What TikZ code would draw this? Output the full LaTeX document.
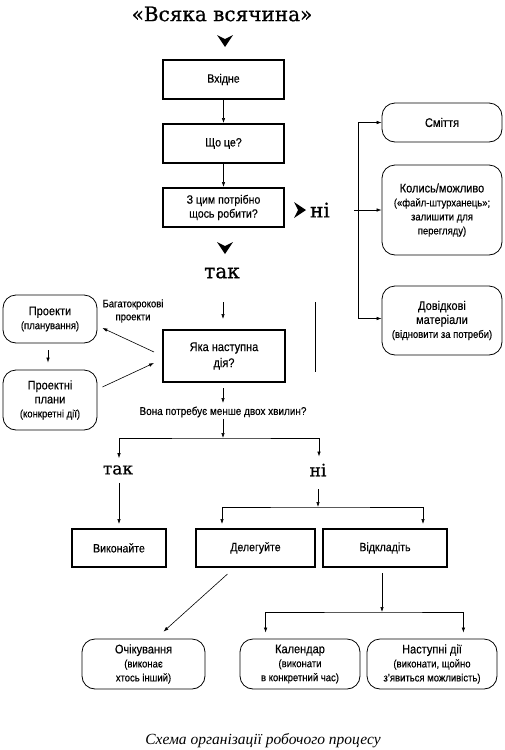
\documentclass[tikz,border=0pt]{standalone}
\usepackage{fontspec}
\setmainfont[FakeStretch=0.88, FakeBold=0.3]{Liberation Sans}
\newfontfamily\titlefont[FakeBold=0.8]{DejaVu Serif}
\newfontfamily\capfont{Liberation Serif}
\usepackage{tikz}
\usetikzlibrary{calc, arrows.meta}
\tikzset{>=latex}
\newcommand*\subt{\fontsize{10.8}{14}\selectfont}
\tikzset{
  actbox/.style={draw, line width=2pt, minimum width=121pt, minimum height=39pt,
    inner sep=1pt, align=center, font=\fontsize{12}{14}\selectfont},
  listbox/.style={draw, line width=0.8pt, rounded corners=13pt, minimum width=120pt,
    inner sep=1pt, align=center, font=\fontsize{12.5}{14}\selectfont},
  bigword/.style={inner sep=0pt, font=\titlefont\fontsize{20}{24}\selectfont},
  arr/.style={-{Latex[length=5pt,width=3.5pt]}, line width=0.6pt},
  dblarr/.style={{Latex[length=5pt,width=3.5pt]}-{Latex[length=5pt,width=3.5pt]}, line width=0.6pt},
  chevron/.pic={\fill (0,7) -- (-8,-5) -- (0,-1) -- (8,-5) -- cycle;}
}
\begin{document}
\begin{tikzpicture}[x=1pt, y=-1pt]
\useasboundingbox (0,0) rectangle (504,750);

% main column
\node[bigword] (title) at (222,14) {«Всяка всячина»};
\pic at (225,40) {chevron};
\node[actbox] (inbox) at (223.5,79.5) {Вхідне};
\node[actbox] (what) at (223.5,143.5) {Що це?};
\node[actbox] (todo) at (223.5,207.5) {З цим потрібно\\щось робити?};
\pic at (225,247) {chevron};
\node[bigword] (tak1) at (222,273) {так};
\pic[rotate=90] at (299,210) {chevron};
\node[bigword] (ni1) at (320,210) {ні};

\draw[arr] (inbox) -- (what);
\draw[arr] (what) -- (todo);

% right column
\node[listbox, minimum height=39pt] (trash) at (442,122.5) {Сміття};
\node[listbox, minimum height=90pt] (maybe) at (442,210)
  {Колись/можливо\\{\subt(«файл-штурханець»;}\\{\subt залишити для}\\{\subt перегляду)}};
\node[listbox, minimum height=69pt] (refs) at (442,320.5)
  {Довідкові\\матеріали\\{\subt(відновити за потреби)}};

\draw[arr] ($(ni1.east)+(24,0)$) -- (maybe.west);
\draw[dblarr] (trash.west) -- ++(-23,0) |- ($(refs.west)+(0,-2)$);
\draw[line width=0.6pt] (315,302) -- (315,372);

% next action
\node[actbox, minimum width=122pt, minimum height=52pt, font=\fontsize{12.5}{16}\selectfont]
  (next) at (224,356) {Яка наступна\\дія?};
\node[listbox, minimum width=94pt, minimum height=48pt] (proj) at (50,319)
  {Проекти\\{\subt(планування)}};
\node[listbox, minimum width=94pt, minimum height=60pt] (plans) at (50,400)
  {Проектні\\плани\\{\subt(конкретні дії)}};
\node[align=center, inner sep=0pt, font=\fontsize{10.8}{13}\selectfont] (multi) at (133,311)
  {Багатокрокові\\проекти};

\draw[arr] ($(next.north)+(-1,-27)$) -- ($(next.north)+(-1,-10)$);
\draw[arr] ($(next.west)+(-8,-4)$) -- ($(proj.east)+(5,9)$);
\draw[arr] ($(plans.east)+(5,-13)$) -- ($(next.west)+(-8,7)$);
\draw[arr] ($(proj.south)+(-2,7)$) -- ($(plans.north)+(-2,-7)$);

% two minutes
\node[inner sep=1pt, font=\fontsize{11.3}{13}\selectfont] (twomin) at (223,412)
  {Вона потребує менше двох хвилин?};
\draw[arr] ($(next.south)+(-1,5)$) -- ($(next.south)+(-1,20)$);
\coordinate (fork1) at (223,438);
\draw[arr] (twomin.south) -- (fork1);

\node[bigword, font=\titlefont\fontsize{17}{20}\selectfont] (tak2) at (118,470) {так};
\node[bigword, font=\titlefont\fontsize{17}{20}\selectfont] (ni2) at (318,470) {ні};
\draw[dblarr] ($(tak2.north)+(1,-7)$) |- (fork1) -| ($(ni2.north)+(1,-7)$);

\node[actbox, minimum width=94pt, minimum height=38pt] (doit) at (119,548) {Виконайте};
\node[actbox, minimum width=119pt, minimum height=38pt] (deleg) at (255.5,548) {Делегуйте};
\node[actbox, minimum width=124pt, minimum height=38pt] (defer) at (385,548) {Відкладіть};

\draw[arr] ($(tak2.south)+(1,8)$) -- ($(doit.north)+(0,-4)$);
\coordinate (fork2) at (318,507);
\draw[arr] ($(ni2.south)+(0,13)$) -- (fork2);
\draw[dblarr] ($(deleg.north west)+(27,-4)$) |- (fork2) -| ($(defer.north east)+(-25,-4)$);

% bottom lists
\node[listbox, minimum width=123pt, minimum height=50pt] (wait) at (143.5,664)
  {Очікування\\{\subt(виконає}\\{\subt хтось інший)}};
\node[listbox, minimum width=120pt, minimum height=50pt] (cal) at (300,664)
  {Календар\\{\subt(виконати}\\{\subt в конкретний час)}};
\node[listbox, minimum width=130pt, minimum height=50pt] (nextact) at (432,664)
  {Наступні дії\\{\subt(виконати, щойно}\\{\subt з'явиться можливість)}};

\draw[arr] ($(deleg.south)+(-28,6)$) -- ($(wait.north)+(20,-7)$);
\coordinate (fork3) at (382,612);
\draw[arr] ($(defer.south)+(-3,5)$) -- (fork3);
\draw[dblarr] ($(cal.north west)+(26,-6)$) |- (fork3) -| ($(nextact.north east)+(-34,-6)$);

\node[font=\capfont\itshape\fontsize{15.5}{18}\selectfont] (caption) at (263,741)
  {Схема організації робочого процесу};
\end{tikzpicture}
\end{document}
